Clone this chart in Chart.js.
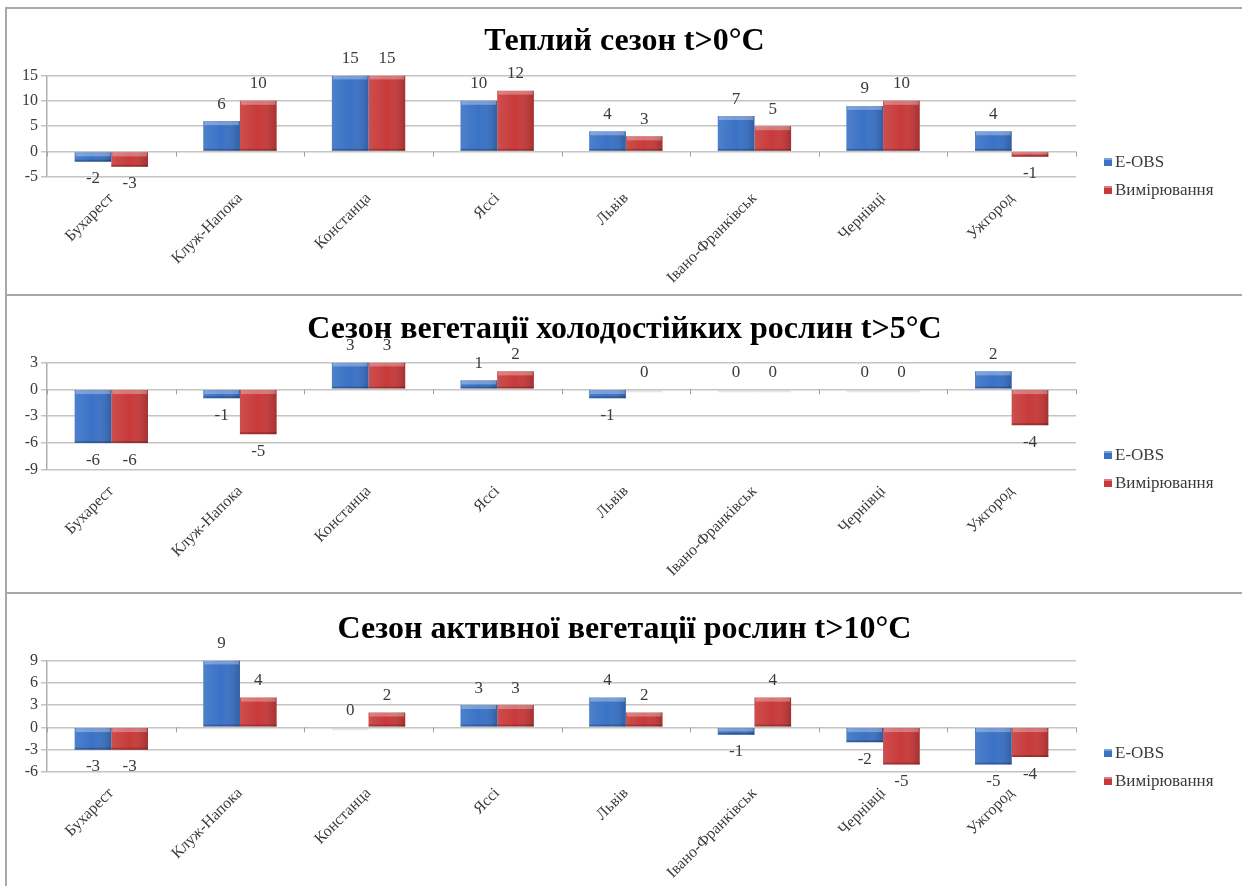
<!DOCTYPE html>
<html>
<head>
<meta charset="utf-8">
<script src="https://cdn.jsdelivr.net/npm/chart.js@4.4.1/dist/chart.umd.min.js"></script>
<style>
  html, body { margin: 0; padding: 0; background: #fff; width: 1242px; height: 886px; overflow: hidden; }
  .panel { position: absolute; left: 5px; width: 1250px; border-left: 2px solid #a8a8a8; border-top: 2px solid #a8a8a8; box-sizing: border-box; }
  canvas { position: absolute; left: 0; top: 0; }
</style>
</head>
<body>
<div class="panel" style="top:7px;height:289px;"><canvas id="c1" width="1235" height="287"></canvas></div>
<div class="panel" style="top:294px;height:300px;"><canvas id="c2" width="1235" height="296"></canvas></div>
<div class="panel" style="top:592px;height:296px;"><canvas id="c3" width="1235" height="292"></canvas></div>
<script>
// ---- data ----
const categories = ['Бухарест', 'Клуж-Напока', 'Констанца', 'Яссі', 'Львів', 'Івано-Франківськ', 'Чернівці', 'Ужгород'];
const seriesNames = ['E-OBS', 'Вимірювання'];
const titles = ['Теплий сезон t>0°C', 'Сезон вегетації холодостійких рослин t>5°C', 'Сезон активної вегетації рослин t>10°C'];

const eobsT0 = [-2, 6, 15, 10, 4, 7, 9, 4];
const measT0 = [-3, 10, 15, 12, 3, 5, 10, -1];
const eobsT5 = [-6, -1, 3, 1, -1, 0, 0, 2];
const measT5 = [-6, -5, 3, 2, 0, 0, 0, -4];
const eobsT10 = [-3, 9, 0, 3, 4, -1, -2, -5];
const measT10 = [-3, 4, 2, 3, 2, 4, -5, -4];

const ticksT0 = [-5, 0, 5, 10, 15];
const ticksT5 = [-9, -6, -3, 0, 3];
const ticksT10 = [-6, -3, 0, 3, 6, 9];

// ---- styling ----
const SERIF = '"Liberation Serif", "Times New Roman", serif';
const BLUE = '#3a72c6';
const RED = '#c83a3a';
const TEXT = '#3a3a3a';
const GRID = '#c4c4c4';

const overlayPlugin = {
  id: 'overlay',
  afterDatasetsDraw(chart, args, opts) {
    const ctx = chart.ctx;
    const x = chart.scales.x, y = chart.scales.y;
    const y0 = y.getPixelForValue(0);
    ctx.save();
    // small ticks at category boundaries on zero line
    ctx.strokeStyle = '#a0a0a0';
    ctx.lineWidth = 1;
    const n = categories.length;
    const step = (x.right - x.left) / n;
    for (let i = 0; i <= n; i++) {
      const px = Math.round(x.left + i * step) + 0.5;
      ctx.beginPath(); ctx.moveTo(px, y0); ctx.lineTo(px, y0 + 5); ctx.stroke();
    }
    // bevel shading + labels
    chart.data.datasets.forEach((ds, di) => {
      const meta = chart.getDatasetMeta(di);
      meta.data.forEach((bar, i) => {
        const v = ds.data[i];
        const left = bar.x - bar.width / 2, right = bar.x + bar.width / 2;
        const top = Math.min(bar.y, bar.base), bot = Math.max(bar.y, bar.base);
        const h = bot - top;
        if (v === 0) {
          ctx.fillStyle = 'rgba(205,205,205,0.45)';
          ctx.fillRect(left, y0, bar.width, 3);
        } else {
          const g = ctx.createLinearGradient(left, 0, right, 0);
          g.addColorStop(0, 'rgba(255,255,255,0.10)');
          g.addColorStop(0.5, 'rgba(255,255,255,0.0)');
          g.addColorStop(1, 'rgba(0,0,0,0.18)');
          ctx.fillStyle = g;
          ctx.fillRect(left, top, bar.width, h);
          const bv = Math.min(4, h / 2);
          ctx.fillStyle = 'rgba(255,255,255,0.30)';
          ctx.fillRect(left + 1, top, bar.width - 2, bv);
          ctx.fillStyle = 'rgba(0,0,0,0.22)';
          ctx.fillRect(left, bot - Math.min(2, h / 3), bar.width, Math.min(2, h / 3));
        }
        ctx.fillStyle = TEXT;
        ctx.font = '17px ' + SERIF;
        ctx.textAlign = 'center';
        ctx.textBaseline = 'middle';
        const ly = v >= 0 ? bar.y - 17 : bar.y + 17;
        ctx.fillText(String(v), bar.x, ly);
      });
    });
    // legend
    const colors = [BLUE, RED];
    seriesNames.forEach((name, k) => {
      const ly = opts.legendY[k];
      ctx.fillStyle = colors[k];
      ctx.fillRect(1097, ly - 4, 8, 8);
      ctx.fillStyle = 'rgba(255,255,255,0.35)';
      ctx.fillRect(1097, ly - 4, 8, 2);
      ctx.fillStyle = TEXT;
      ctx.font = '17px ' + SERIF;
      ctx.textAlign = 'left';
      ctx.textBaseline = 'middle';
      ctx.fillText(name, 1108, ly + 1);
    });
    ctx.restore();
  }
};

function makeChart(id, title, eobs, meas, yTicks, cfg) {
  const tmin = Math.min(...yTicks), tmax = Math.max(...yTicks);
  return new Chart(document.getElementById(id), {
    type: 'bar',
    data: {
      labels: categories,
      datasets: [
        { label: seriesNames[0], data: eobs, backgroundColor: BLUE, borderWidth: 0 },
        { label: seriesNames[1], data: meas, backgroundColor: RED, borderWidth: 0 }
      ]
    },
    options: {
      responsive: false,
      animation: false,
      devicePixelRatio: 1,
      categoryPercentage: 0.57,
      barPercentage: 1.0,
      layout: { padding: { left: 0, right: 0, top: 0, bottom: 0 } },
      plugins: {
        legend: { display: false },
        tooltip: { enabled: false },
        title: {
          display: true, text: title, color: '#000',
          font: { family: SERIF, size: 32, weight: 'bold', lineHeight: 1.2 },
          padding: { top: cfg.titleTop, bottom: cfg.titleBottom }
        },
        overlay: { legendY: cfg.legendY }
      },
      scales: {
        x: {
          grid: { display: false, drawTicks: false },
          border: { display: false },
          ticks: { color: TEXT, font: { family: SERIF, size: 16 }, minRotation: 45, maxRotation: 45, padding: 12, autoSkip: false },
          afterFit: s => { s.height = cfg.xHeight; }
        },
        y: {
          min: tmin, max: tmax,
          afterBuildTicks: s => { s.ticks = yTicks.map(v => ({ value: v })); },
          grid: { color: GRID, lineWidth: 1.5, tickLength: 6 },
          border: { display: true, color: '#b0b0b0', width: 1.5 },
          ticks: { color: TEXT, font: { family: SERIF, size: 16 }, padding: 3, callback: v => String(v) },
          afterFit: s => { s.width = 40; }
        },
        yR: {
          position: 'right', display: true,
          grid: { display: false, drawOnChartArea: false },
          border: { display: false },
          ticks: { display: false },
          afterFit: s => { s.width = 166; }
        }
      }
    },
    plugins: [overlayPlugin]
  });
}

makeChart('c1', titles[0], eobsT0, measT0, ticksT0, { titleTop: 14, titleBottom: 14, xHeight: 119, legendY: [153, 181] });
makeChart('c2', titles[1], eobsT5, measT5, ticksT5, { titleTop: 15, titleBottom: 13, xHeight: 122, legendY: [159, 187] });
makeChart('c3', titles[2], eobsT10, measT10, ticksT10, { titleTop: 17, titleBottom: 11, xHeight: 114, legendY: [159, 187] });
</script>
</body>
</html>
